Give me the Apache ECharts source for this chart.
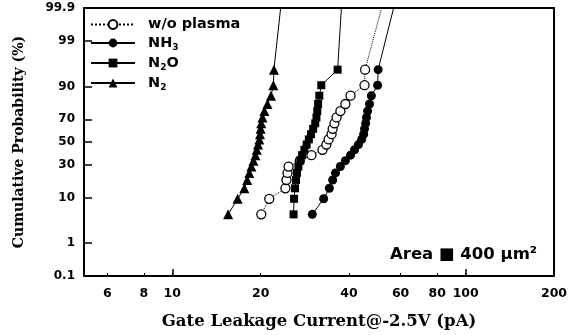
<!DOCTYPE html>
<html>
<head>
<meta charset="utf-8">
<script src="https://cdn.jsdelivr.net/npm/echarts@6/dist/echarts.min.js"></script>
<style>
  html, body { margin: 0; padding: 0; background: #fff; }
  #chart { width: 572px; height: 335px; }
</style>
</head>
<body>
<div id="chart"></div>
<script>
// Axis ticks
const currentTicks = [6, 8, 10, 20, 40, 60, 80, 100, 200];
const currentMajorTicks = [10, 100];
const probTicks = [0.1, 1, 10, 30, 50, 70, 90, 99, 99.9];
const probTickLabels = ['0.1', '1', '10', '30', '50', '70', '90', '99', '99.9'];

// Cumulative probability (%) of each ranked sample
const cumProb = [4.76, 9.52, 14.29, 19.05, 23.81, 28.57, 33.33, 38.10, 42.86, 47.62,
                 52.38, 57.14, 61.90, 66.67, 71.43, 76.19, 80.95, 85.71, 90.48, 95.24];

// Gate leakage current (pA), ranked, per treatment
const woPlasma = [20.1, 21.4, 24.3, 24.5, 24.7, 24.9, 27.2, 29.8, 32.5, 33.5,
                  34.1, 34.9, 35.2, 35.7, 36.3, 37.4, 38.9, 40.5, 45.2, 45.4];
const nh3 = [30.0, 32.8, 34.3, 35.2, 36.0, 37.4, 38.9, 40.5, 41.8, 43.1,
             44.2, 44.9, 45.2, 45.6, 45.9, 46.3, 47.0, 47.7, 50.1, 50.3];
const n2o = [25.9, 26.0, 26.2, 26.4, 26.6, 26.9, 27.3, 27.7, 28.2, 28.7,
             29.2, 29.7, 30.2, 30.7, 31.0, 31.2, 31.4, 31.7, 32.2, 36.6];
const n2 = [15.5, 16.7, 17.6, 18.0, 18.3, 18.6, 18.9, 19.2, 19.4, 19.6,
            19.8, 19.9, 20.0, 20.1, 20.3, 20.6, 21.1, 21.7, 22.1, 22.2];

// Where each curve leaves the top of the plot (pA at 99.9 %)
const tailProb = 99.9;
const tailCurrent = { wo: 51.7, nh3: 56.8, n2o: 37.7, n2: 23.4 };

// Inverse standard normal CDF (Acklam)
function probit(p) {
  const a = [-3.969683028665376e+01, 2.209460984245205e+02, -2.759285104469687e+02,
             1.383577518672690e+02, -3.066479806614716e+01, 2.506628277459239e+00];
  const b = [-5.447609879822406e+01, 1.615858368580409e+02, -1.556989798598866e+02,
             6.680131188771972e+01, -1.328068155288572e+01];
  const c = [-7.784894002430293e-03, -3.223964580411365e-01, -2.400758277161838e+00,
             -2.549671348733585e+00, 4.374664141464968e+00, 2.938163982698783e+00];
  const d = [7.784695709041462e-03, 3.224671290700398e-01, 2.445134137142996e+00,
             3.754408661907416e+00];
  const pl = 0.02425, ph = 1 - pl;
  let q, r;
  if (p < pl) {
    q = Math.sqrt(-2 * Math.log(p));
    return (((((c[0]*q+c[1])*q+c[2])*q+c[3])*q+c[4])*q+c[5]) /
           ((((d[0]*q+d[1])*q+d[2])*q+d[3])*q+1);
  }
  if (p <= ph) {
    q = p - 0.5; r = q * q;
    return (((((a[0]*r+a[1])*r+a[2])*r+a[3])*r+a[4])*r+a[5])*q /
           (((((b[0]*r+b[1])*r+b[2])*r+b[3])*r+b[4])*r+1);
  }
  q = Math.sqrt(-2 * Math.log(1 - p));
  return -(((((c[0]*q+c[1])*q+c[2])*q+c[3])*q+c[4])*q+c[5]) /
          ((((d[0]*q+d[1])*q+d[2])*q+d[3])*q+1);
}
const z = pct => probit(pct / 100);
const probTickZ = probTicks.map(z);

function buildSeriesData(values, tail) {
  const pts = values.map((v, i) => [v, z(cumProb[i])]);
  pts.push({ value: [tail, z(tailProb)], symbol: 'none' });
  return pts;
}

const sansFont = 'DejaVu Sans';
const serifFont = 'DejaVu Serif';

const chart = echarts.init(document.getElementById('chart'), null, { renderer: 'canvas' });

const richLabel = {
  m: { fontFamily: sansFont, fontWeight: 'bold', fontSize: 14.5, color: '#000' },
  s: { fontFamily: sansFont, fontWeight: 'bold', fontSize: 9, color: '#000', padding: [9, 0, 0, 0] }
};
const legendNames = {
  'w/o plasma': '{m|w/o plasma}',
  'NH3': '{m|NH}{s|3}',
  'N2O': '{m|N}{s|2}{m|O}',
  'N2': '{m|N}{s|2}'
};

const frameLine = { show: true, onZero: false, lineStyle: { color: '#000', width: 2 } };

chart.setOption({
  animation: false,
  backgroundColor: '#fff',
  grid: { left: 84, right: 18, top: 8, bottom: 55, containLabel: false },
  legend: {
    orient: 'vertical',
    left: 90,
    top: 17,
    itemWidth: 44,
    itemHeight: 11,
    itemGap: 3.5,
    padding: 0,
    selectedMode: false,
    textStyle: { rich: richLabel, padding: [0, 0, 0, 8] },
    formatter: name => legendNames[name],
    data: ['w/o plasma', 'NH3', 'N2O', 'N2']
  },
  xAxis: [
    {
      type: 'log', logBase: 10, min: 5, max: 200,
      name: 'Gate Leakage Current@-2.5V (pA)',
      nameLocation: 'middle', nameGap: 37,
      nameTextStyle: { fontFamily: serifFont, fontWeight: 'bold', fontSize: 16.5, color: '#000' },
      axisLine: frameLine,
      axisTick: { show: true, inside: true, length: 3, customValues: currentTicks, lineStyle: { color: '#000', width: 1 } },
      axisLabel: { show: true, customValues: currentTicks, margin: 11, color: '#000',
                   fontFamily: sansFont, fontWeight: 'bold', fontSize: 12.5, formatter: v => String(Math.round(v)) },
      splitLine: { show: false }
    },
    {
      type: 'log', logBase: 10, min: 5, max: 200, position: 'bottom',
      axisLine: { show: false, onZero: false },
      axisTick: { show: true, inside: true, length: 7, customValues: currentMajorTicks, lineStyle: { color: '#000', width: 1.5 } },
      axisLabel: { show: false },
      splitLine: { show: false }
    },
    {
      type: 'log', logBase: 10, min: 5, max: 200, position: 'top',
      axisLine: frameLine, axisTick: { show: false }, axisLabel: { show: false }, splitLine: { show: false }
    }
  ],
  yAxis: [
    {
      type: 'value', min: z(0.1), max: z(99.9),
      name: 'Cumulative Probability (%)',
      nameLocation: 'middle', nameGap: 58, nameRotate: 90,
      nameTextStyle: { fontFamily: serifFont, fontWeight: 'bold', fontSize: 14, color: '#000' },
      axisLine: frameLine,
      axisTick: { show: true, inside: true, length: 8, customValues: probTickZ, lineStyle: { color: '#000', width: 1.5 } },
      axisLabel: {
        show: true, customValues: probTickZ, margin: 9, color: '#000',
        fontFamily: sansFont, fontWeight: 'bold', fontSize: 12,
        formatter: v => {
          let best = 0;
          probTickZ.forEach((t, i) => { if (Math.abs(t - v) < Math.abs(probTickZ[best] - v)) best = i; });
          return probTickLabels[best];
        }
      },
      splitLine: { show: false }
    },
    {
      type: 'value', min: z(0.1), max: z(99.9), position: 'right',
      axisLine: frameLine, axisTick: { show: false }, axisLabel: { show: false }, splitLine: { show: false }
    }
  ],
  series: [
    {
      name: 'w/o plasma', type: 'line', data: buildSeriesData(woPlasma, tailCurrent.wo),
      symbol: 'circle', symbolSize: 9,
      itemStyle: { color: '#fff', borderColor: '#000', borderWidth: 1.3 },
      lineStyle: { color: '#000', width: 1, type: 'dotted' },
      z: 3
    },
    {
      name: 'NH3', type: 'line', data: buildSeriesData(nh3, tailCurrent.nh3),
      symbol: 'circle', symbolSize: 9,
      itemStyle: { color: '#000', borderColor: '#000', borderWidth: 0 },
      lineStyle: { color: '#000', width: 1 },
      z: 4
    },
    {
      name: 'N2O', type: 'line', data: buildSeriesData(n2o, tailCurrent.n2o),
      symbol: 'rect', symbolSize: 8,
      itemStyle: { color: '#000', borderColor: '#000', borderWidth: 0 },
      lineStyle: { color: '#000', width: 1 },
      z: 5
    },
    {
      name: 'N2', type: 'line', data: buildSeriesData(n2, tailCurrent.n2),
      symbol: 'triangle', symbolSize: 10,
      itemStyle: { color: '#000', borderColor: '#000', borderWidth: 0 },
      lineStyle: { color: '#000', width: 1 },
      z: 4
    }
  ],
  graphic: [
    {
      type: 'text', left: 390, top: 246,
      style: { text: 'Area ■ 400 μm²', font: 'bold 16.5px "DejaVu Sans"', fill: '#000' }
    }
  ]
});
</script>
</body>
</html>
